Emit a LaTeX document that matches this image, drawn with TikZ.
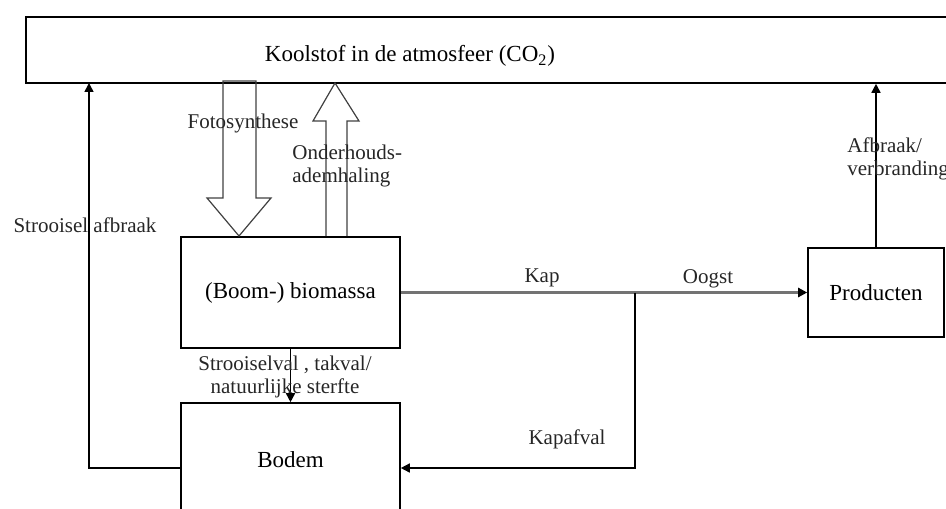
\documentclass[tikz,border=0pt]{standalone}
\usepackage{fontspec}
\setmainfont{Liberation Serif}
\usetikzlibrary{arrows.meta}
\begin{document}
\begin{tikzpicture}[x=0.5pt,y=-0.5pt,
  box/.style={draw,line width=0.8pt,inner sep=0pt,font=\fontsize{11.5}{13}\selectfont},
  lbl/.style={font=\fontsize{10.5}{11.5}\selectfont,inner sep=0pt,text=black!85},
  conn/.style={line width=0.8pt,-{Triangle[length=4.5pt,width=4.5pt]}},
  kapline/.style={line width=1.3pt,draw=black!55},
  hollow/.style={draw=black!75,line width=0.6pt}]
\useasboundingbox (0,0) rectangle (946,508);
\begin{scope}
\clip (0,0) rectangle (946,508);
% boxes
\node[box,minimum width=467pt,minimum height=33pt] (atm) at (493,50) {};
\node[font=\fontsize{11.5}{13}\selectfont,inner sep=0pt] (atmtext) at (410,56) {Koolstof in de atmosfeer (CO\textsubscript{2})};
\node[box,minimum width=109.5pt,minimum height=55.5pt] (bio) at (290.5,292.5) {(Boom-) biomassa};
\node[box,minimum width=109.5pt,minimum height=57pt] (bodem) at (290.5,460) {Bodem};
\node[box,minimum width=68pt,minimum height=44.5pt] (prod) at (876,292.5) {Producten};
% helper coordinates
\coordinate (y468) at (0,468);
\coordinate (j) at (635,292.5);
\coordinate (lc) at (89,468);
\coordinate (lt) at (89,83);
% hollow arrows
\draw[hollow] (223,81) -- (256,81) -- (256,198) -- (271,198) -- (239,236) -- (207,198) -- (223,198) -- cycle;
\draw[hollow] (326,236) -- (326,121) -- (313,121) -- (335,83) -- (359,121) -- (347,121) -- (347,236);
% connectors
\draw[conn] (bodem.west |- y468) -- (lc) -- (lt);
\draw[conn] (bio.south) -- (bodem.north);
\draw[kapline] (bio.east) -- (j);
\draw[kapline,-{Triangle[length=4.5pt,width=4.5pt,color=black]}] (j) -- (prod.west);
\draw[conn] (j) |- (bodem.east |- y468);
\draw[conn] (prod.north) -- (prod.north |- atm.south);
% labels
\node[lbl] (lfoto) at (243,123) {Fotosynthese};
\node[lbl,anchor=north west,align=left] (londer) at (292,145) {Onderhouds-\\ademhaling};
\node[lbl] (lstr) at (85,225) {Strooisel afbraak};
\node[lbl,align=center] (lval) at (285,377) {Strooiselval , takval/\\natuurlijke sterfte};
\node[lbl] (lkap) at (542,278) {Kap};
\node[lbl] (loogst) at (708,279) {Oogst};
\node[lbl] (lkapafval) at (567,439) {Kapafval};
\node[lbl,anchor=north west,align=left] (lafb) at (847,137) {Afbraak/\\verbranding};
\end{scope}
\end{tikzpicture}
\end{document}
